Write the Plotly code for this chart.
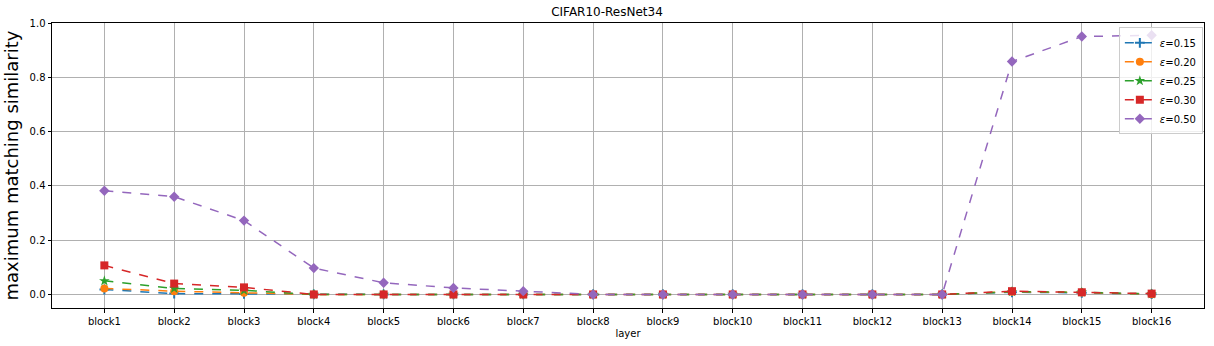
import plotly.graph_objects as go

layers = [f"block{i}" for i in range(1, 17)]
eps_labels = ["0.15", "0.20", "0.25", "0.30", "0.50"]
vals_015 = [0.018, 0.003, 0.002, 0.0, 0.0, 0.0, 0.0, 0.0, 0.0, 0.0, 0.0, 0.0, 0.0, 0.008, 0.006, 0.001]
vals_020 = [0.022, 0.012, 0.006, 0.0, 0.0, 0.0, 0.0, 0.0, 0.0, 0.0, 0.0, 0.0, 0.0, 0.010, 0.007, 0.001]
vals_025 = [0.050, 0.022, 0.015, 0.0, 0.0, 0.0, 0.0, 0.0, 0.0, 0.0, 0.0, 0.0, 0.0, 0.010, 0.008, 0.002]
vals_030 = [0.107, 0.040, 0.026, 0.0, 0.0, 0.0, 0.0, 0.0, 0.0, 0.0, 0.0, 0.0, 0.0, 0.012, 0.008, 0.003]
vals_050 = [0.382, 0.360, 0.272, 0.097, 0.043, 0.024, 0.012, 0.0, 0.0, 0.0, 0.0, 0.0, 0.0, 0.858, 0.950, 0.955]

series = [vals_015, vals_020, vals_025, vals_030, vals_050]
colors = ["#1f77b4", "#ff7f0e", "#2ca02c", "#d62728", "#9467bd"]
symbols = ["cross-thin", "circle", "star", "square", "diamond"]
sizes = [7, 8, 8, 8, 8]

fig = go.Figure()
for lab, v, c, s, sz in zip(eps_labels, series, colors, symbols, sizes):
    fig.add_trace(go.Scatter(
        x=list(range(len(layers))), y=v, mode="lines+markers",
        name=f"<i>ε</i>=" + lab,
        line=dict(color=c, dash="dash", width=1.5),
        marker=dict(symbol=s, color=c, size=sz, line=dict(color=c, width=2 if s == "cross-thin" else 0)),
    ))

fig.update_layout(
    width=1214, height=346,
    margin=dict(l=52, r=10, t=23, b=38, autoexpand=False),
    paper_bgcolor="white", plot_bgcolor="white",
    font=dict(family="DejaVu Sans", size=10, color="black"),
    title=dict(text="CIFAR10-ResNet34", x=0.5, xanchor="center", y=0.965, yanchor="middle",
               font=dict(size=12)),
    legend=dict(x=0.999, y=0.985, xanchor="right", yanchor="top",
                bgcolor="rgba(255,255,255,0.8)", bordercolor="#cccccc", borderwidth=1,
                font=dict(size=10), tracegroupgap=0, itemwidth=30),
    showlegend=True,
)
fig.update_xaxes(
    tickmode="array", tickvals=list(range(len(layers))), ticktext=layers,
    range=[-0.75, 15.75], showgrid=True, gridcolor="#b0b0b0", gridwidth=1,
    showline=True, linecolor="black", linewidth=1, mirror=True, automargin=False,
    ticks="outside", ticklen=3.5, tickcolor="black", zeroline=False,
    title=dict(text="layer", font=dict(size=10), standoff=4),
)
fig.update_yaxes(
    range=[-0.05, 1.0], tickvals=[0.0, 0.2, 0.4, 0.6, 0.8, 1.0],
    ticktext=["0.0", "0.2", "0.4", "0.6", "0.8", "1.0"],
    showgrid=True, gridcolor="#b0b0b0", gridwidth=1, automargin=False,
    showline=True, linecolor="black", linewidth=1, mirror=True,
    ticks="outside", ticklen=3.5, tickcolor="black", zeroline=False,
    title=dict(text="maximum matching similarity", font=dict(size=18), standoff=6),
)

fig.write_html("out.html", config={"displayModeBar": False},
               post_script="document.body.style.margin='0';document.body.style.overflow='hidden';")
